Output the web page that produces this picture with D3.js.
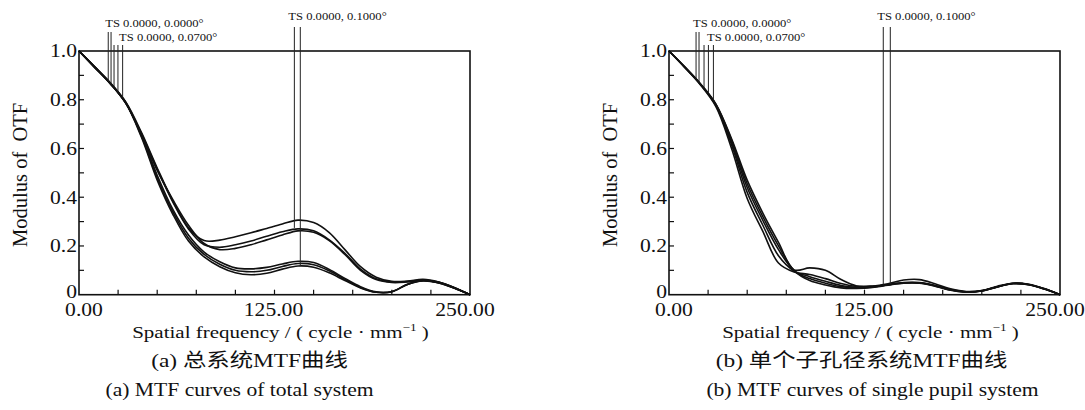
<!DOCTYPE html>
<html>
<head>
<meta charset="utf-8">
<script src="https://cdn.jsdelivr.net/npm/d3@7/dist/d3.min.js"></script>
<style>
  body { margin: 0; background: #fff; }
  text { font-family: "Liberation Serif", "Times New Roman", "Noto Sans CJK SC", serif; fill: #111; white-space: pre; }
</style>
</head>
<body>
<div id="chart"></div>
<script>
// spatial frequency samples (cycle/mm)
var freq = [0, 10, 20, 30, 40, 50, 60, 70, 80, 90, 100, 110, 120, 130, 140, 150, 160, 170, 180, 190, 200, 210, 220, 230, 240, 250];

// (a) total system: six T/S curves
var totalU1 = [1, 0.935, 0.87, 0.79, 0.665, 0.52, 0.385, 0.275, 0.222, 0.224, 0.238, 0.254, 0.272, 0.29, 0.306, 0.296, 0.255, 0.185, 0.115, 0.072, 0.055, 0.056, 0.063, 0.052, 0.03, 0];
var totalU2 = [1, 0.935, 0.868, 0.785, 0.655, 0.51, 0.39, 0.285, 0.21, 0.185, 0.19, 0.205, 0.225, 0.245, 0.262, 0.256, 0.222, 0.165, 0.1, 0.062, 0.05, 0.052, 0.058, 0.048, 0.028, 0];
var totalU3 = [1, 0.935, 0.868, 0.785, 0.66, 0.515, 0.38, 0.27, 0.205, 0.195, 0.205, 0.22, 0.24, 0.258, 0.27, 0.262, 0.225, 0.17, 0.105, 0.065, 0.052, 0.054, 0.06, 0.05, 0.029, 0];
var totalL1 = [1, 0.933, 0.866, 0.785, 0.645, 0.47, 0.33, 0.22, 0.155, 0.115, 0.09, 0.082, 0.088, 0.105, 0.118, 0.113, 0.09, 0.058, 0.028, 0.01, 0.012, 0.042, 0.056, 0.048, 0.026, 0];
var totalL2 = [1, 0.933, 0.866, 0.787, 0.65, 0.48, 0.34, 0.232, 0.165, 0.125, 0.1, 0.094, 0.1, 0.116, 0.128, 0.123, 0.098, 0.063, 0.03, 0.01, 0.012, 0.042, 0.057, 0.05, 0.027, 0];
var totalL3 = [1, 0.934, 0.867, 0.788, 0.655, 0.49, 0.35, 0.245, 0.175, 0.135, 0.11, 0.106, 0.112, 0.126, 0.137, 0.132, 0.104, 0.067, 0.033, 0.012, 0.013, 0.043, 0.059, 0.052, 0.028, 0];

// (b) single sub-pupil system
var pupilR1 = [1, 0.935, 0.866, 0.782, 0.64, 0.47, 0.335, 0.215, 0.102, 0.11, 0.1, 0.062, 0.036, 0.036, 0.045, 0.06, 0.062, 0.045, 0.024, 0.013, 0.017, 0.035, 0.047, 0.042, 0.024, 0];
var pupilR2 = [1, 0.933, 0.862, 0.772, 0.6, 0.395, 0.26, 0.13, 0.093, 0.083, 0.066, 0.046, 0.034, 0.034, 0.042, 0.05, 0.05, 0.038, 0.021, 0.012, 0.016, 0.033, 0.045, 0.041, 0.023, 0];
var pupilR3 = [1, 0.934, 0.864, 0.776, 0.615, 0.42, 0.285, 0.16, 0.097, 0.074, 0.055, 0.038, 0.03, 0.032, 0.041, 0.049, 0.049, 0.037, 0.02, 0.011, 0.016, 0.033, 0.046, 0.041, 0.023, 0];
var pupilR4 = [1, 0.934, 0.865, 0.779, 0.625, 0.44, 0.305, 0.185, 0.098, 0.066, 0.047, 0.033, 0.028, 0.031, 0.04, 0.048, 0.048, 0.036, 0.019, 0.011, 0.015, 0.032, 0.046, 0.042, 0.024, 0];
var pupilR5 = [1, 0.935, 0.866, 0.781, 0.635, 0.455, 0.32, 0.2, 0.099, 0.058, 0.04, 0.028, 0.026, 0.03, 0.039, 0.047, 0.047, 0.035, 0.018, 0.01, 0.015, 0.032, 0.047, 0.043, 0.025, 0];

// field legend marker lines: frequency where they sit, MTF where they stop
var totalMarkFreq = [18.7, 20.5, 22.4, 24.9, 27.9];
var totalMarkEnd = [0.875, 0.862, 0.85, 0.833, 0.81];
var totalFarFreq = [137.7, 141.5];
var totalFarEnd = [0.274, 0.118];
var pupilMarkFreq = [17.3, 19.2, 22.4, 25.2, 28.4];
var pupilMarkEnd = [0.885, 0.87, 0.85, 0.83, 0.8];
var pupilFarFreq = [137, 141.5];
var pupilFarEnd = [0.042, 0.044];

var fieldLabels = ["TS 0.0000, 0.0000\u00b0", "TS 0.0000, 0.0700\u00b0", "TS 0.0000, 0.1000\u00b0"];
var xTickLabels = [0, 125, 250];
var yTickLabels = [0, 0.2, 0.4, 0.6, 0.8, 1.0];
var yTitle = "Modulus of  OTF";
var captionsA = ["(a) \u603b\u7cfb\u7edfMTF\u66f2\u7ebf", "(a) MTF curves of total system"];
var captionsB = ["(b) \u5355\u4e2a\u5b50\u5b54\u5f84\u7cfb\u7edfMTF\u66f2\u7ebf", "(b) MTF curves of single pupil system"];

// the printed figure is a little wider than tall, so text is stretched sideways
var SX = 1.2;

var svg = d3.select("#chart").append("svg")
  .attr("width", 1085)
  .attr("height", 410);

svg.append("rect").attr("width", 1085).attr("height", 410).attr("fill", "#fff");

function label(sel, x, y, size, anchor) {
  return sel.append("g")
    .attr("transform", `translate(${x}, ${y}) scale(${SX}, 1)`)
    .append("text")
    .attr("text-anchor", anchor)
    .attr("font-size", size + "px");
}

function drawPanel(left, curves, markFreq, markEnd, farFreq, farEnd, captions, capShift) {
  var plotW = 391, top = 51, bottom = 294.7;

  var x = d3.scaleLinear().domain([0, 250]).range([left, left + plotW]);
  var y = d3.scaleLinear().domain([0, 1]).range([bottom, top]);

  var g = svg.append("g");

  // minor ticks, pointing inward
  g.selectAll(".xt").data(d3.range(25, 250, 25)).enter().append("line")
    .attr("x1", d => x(d)).attr("x2", d => x(d))
    .attr("y1", bottom).attr("y2", bottom - 5)
    .attr("stroke", "#111").attr("stroke-width", 1.2);
  g.selectAll(".yt").data(d3.range(1, 10).map(d => d / 10)).enter().append("line")
    .attr("x1", left).attr("x2", left + 5)
    .attr("y1", d => y(d)).attr("y2", d => y(d))
    .attr("stroke", "#111").attr("stroke-width", 1.2);

  // frame
  g.append("rect")
    .attr("x", left).attr("y", top)
    .attr("width", plotW).attr("height", bottom - top)
    .attr("fill", "none").attr("stroke", "#111").attr("stroke-width", 1.6);

  // tick labels
  xTickLabels.forEach(function(d) {
    var shift = d === 0 ? 5 : (d === 250 ? -5 : -1);
    label(g, x(d) + shift, 316, 18, "middle").text(d3.format(".2f")(d));
  });
  yTickLabels.forEach(function(d) {
    label(g, left - 2, y(d) + (d === 0 ? -3 : 0), 18, "end")
      .attr("dy", "0.35em")
      .text(d === 0 ? "0" : d3.format(".1f")(d));
  });

  // axis titles
  g.append("text")
    .attr("transform", `translate(${left - 52}, ${(top + bottom) / 2 + 2}) rotate(-90)`)
    .attr("text-anchor", "middle")
    .attr("font-size", "20.5px")
    .text(yTitle);

  var xt = label(g, left + plotW / 2 + 6, 338, 17.5, "middle");
  xt.append("tspan").text("Spatial frequency / ( cycle \u00b7 mm");
  xt.append("tspan").attr("font-size", "11px").attr("dy", "-7").text("\u22121");
  xt.append("tspan").attr("dy", "7").text(" )");

  label(g, left + plotW / 2 + capShift[0], 367, 19.5, "middle").text(captions[0]);
  label(g, left + plotW / 2 + capShift[1], 396, 18, "middle").text(captions[1]);

  // MTF curves
  var line = d3.line()
    .x((d, i) => x(freq[i]))
    .y(d => y(d))
    .curve(d3.curveCatmullRom.alpha(0.5));

  g.selectAll(".curve").data(curves).enter().append("path")
    .attr("d", line)
    .attr("fill", "none")
    .attr("stroke", "#111")
    .attr("stroke-width", 1.6);

  // field legend marker lines
  g.selectAll(".mk").data(markFreq).enter().append("line")
    .attr("x1", d => x(d)).attr("x2", d => x(d))
    .attr("y1", (d, i) => i < 2 ? 32 : 45)
    .attr("y2", (d, i) => y(markEnd[i]))
    .attr("stroke", "#222").attr("stroke-width", 1);
  g.selectAll(".far").data(farFreq).enter().append("line")
    .attr("x1", d => x(d)).attr("x2", d => x(d))
    .attr("y1", 27)
    .attr("y2", (d, i) => y(farEnd[i]))
    .attr("stroke", "#222").attr("stroke-width", 1);

  label(g, x(markFreq[0]) - 3, 27, 10.5, "start").text(fieldLabels[0]);
  label(g, x(markFreq[1]) + 8, 41, 10.5, "start").text(fieldLabels[1]);
  label(g, x(farFreq[0]) - 6, 20, 10.5, "start").text(fieldLabels[2]);
}

drawPanel(79, [totalU1, totalU2, totalU3, totalL1, totalL2, totalL3],
  totalMarkFreq, totalMarkEnd, totalFarFreq, totalFarEnd, captionsA, [-25, -35]);
drawPanel(669, [pupilR1, pupilR2, pupilR3, pupilR4, pupilR5],
  pupilMarkFreq, pupilMarkEnd, pupilFarFreq, pupilFarEnd, captionsB, [-3, 8]);
</script>
</body>
</html>
